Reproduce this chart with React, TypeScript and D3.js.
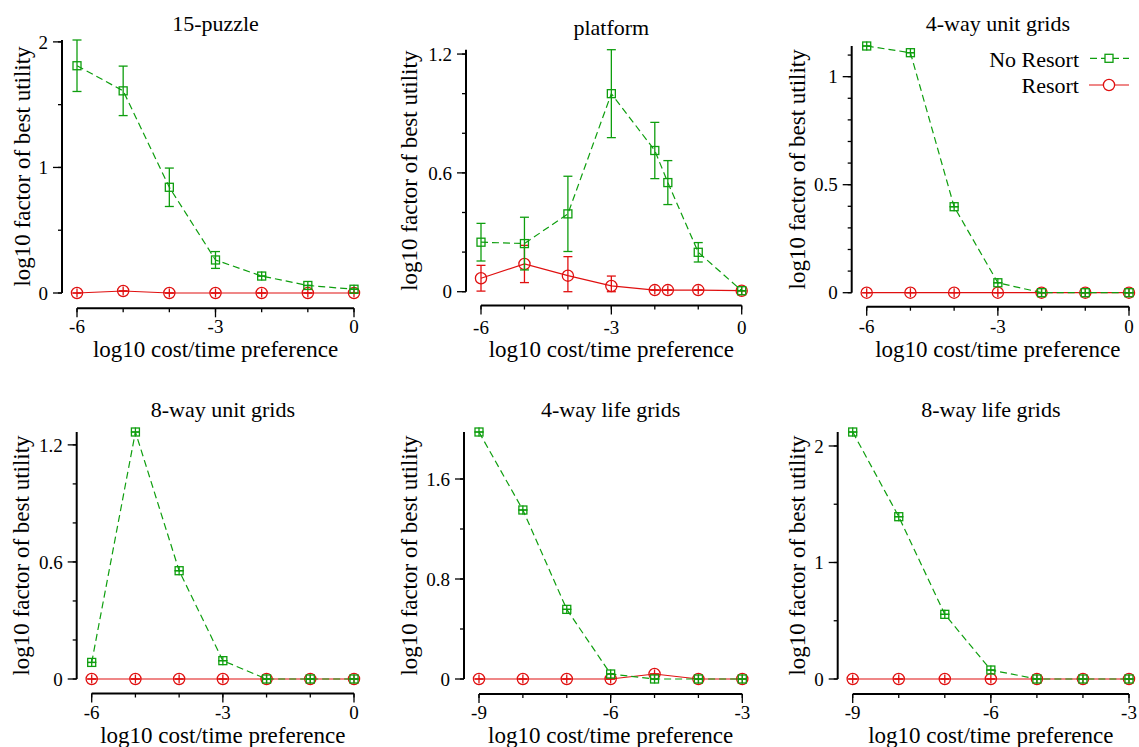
import React from "react";
import * as d3 from "d3";

const seriesNames = ["No Resort", "Resort"];
const xLabel = "log10 cost/time preference";
const yLabel = "log10 factor of best utility";
const titles = ["15-puzzle", "platform", "4-way unit grids", "8-way unit grids", "4-way life grids", "8-way life grids"];

// 15-puzzle
const puzzleX = [-6, -5, -4, -3, -2, -1, 0];
const puzzleNo = [1.81, 1.61, 0.842, 0.263, 0.135, 0.06, 0.03];
const puzzleNoErr = [0.205, 0.197, 0.153, 0.067, 0, 0, 0];
const puzzleRes = [0, 0.016, 0, 0, 0, 0, 0];
const puzzleResErr = [0, 0, 0, 0, 0, 0, 0];

// platform
const platformX = [-6, -5, -4, -3, -2, -1.7, -1, 0];
const platformNo = [0.25, 0.243, 0.393, 1.0, 0.713, 0.551, 0.199, 0.005];
const platformNoErr = [0.095, 0.133, 0.19, 0.222, 0.142, 0.111, 0.049, 0];
const platformRes = [0.068, 0.14, 0.081, 0.029, 0.008, 0.008, 0.008, 0.005];
const platformResErr = [0.065, 0.094, 0.096, 0.05, 0, 0, 0, 0];

// 4-way unit grids
const unit4X = [-6, -5, -4, -3, -2, -1, 0];
const unit4No = [1.142, 1.111, 0.398, 0.046, 0, 0, 0];
const unit4Res = [0, 0, 0, 0, 0, 0, 0];

// 8-way unit grids
const unit8X = [-6, -5, -4, -3, -2, -1, 0];
const unit8No = [0.085, 1.266, 0.555, 0.094, 0, 0, 0];
const unit8Res = [0, 0, 0, 0, 0, 0, 0];

// 4-way life grids
const life4X = [-9, -8, -7, -6, -5, -4, -3];
const life4No = [1.976, 1.352, 0.557, 0.04, 0, 0, 0];
const life4Res = [0, 0, 0, 0, 0.04, 0, 0];

// 8-way life grids
const life8X = [-9, -8, -7, -6, -5, -4, -3];
const life8No = [2.12, 1.393, 0.555, 0.077, 0, 0, 0];
const life8Res = [0, 0, 0, 0, 0, 0, 0];

const zeros = [0, 0, 0, 0, 0, 0, 0];

const yTicks = [[0, 1, 2], [0, 0.6, 1.2], [0, 0.5, 1], [0, 0.6, 1.2], [0, 0.8, 1.6], [0, 1, 2]];
const yMinorSteps = [0.5, 0.2, 0.1, 0.2, 0.4, 0.5];
const xTicksA = [-6, -3, 0];
const xTicksB = [-9, -6, -3];

const GREEN = "#0e9e0e";
const RED = "#e01010";
const FONT = "'Liberation Serif', 'Times New Roman', serif";

// pixel layout of each panel
const layout = [
  { x0: 77, x1: 354, y0: 293, top: 40, axisY: 308.3, titleY: 31, tickY: 333, labelY: 357, yLabelX: 30 },
  { x0: 481, x1: 741.7, y0: 291.7, top: 49.7, axisY: 305.5, titleY: 35, tickY: 334, labelY: 357, yLabelX: 416.6 },
  { x0: 866.7, x1: 1129, y0: 292.7, top: 46, axisY: 306.7, titleY: 31, tickY: 333, labelY: 357, yLabelX: 805 },
  { x0: 91.7, x1: 354, y0: 679, top: 432, axisY: 693.5, titleY: 417, tickY: 719, labelY: 742.5, yLabelX: 29 },
  { x0: 479, x1: 742.3, y0: 679, top: 432, axisY: 694, titleY: 417, tickY: 719, labelY: 742.5, yLabelX: 416.6 },
  { x0: 852.7, x1: 1129, y0: 679, top: 432, axisY: 694, titleY: 417, tickY: 719, labelY: 742.5, yLabelX: 805 },
];

const panels = [
  { xs: puzzleX, no: puzzleNo, noErr: puzzleNoErr, res: puzzleRes, resErr: puzzleResErr, xTicks: xTicksA },
  { xs: platformX, no: platformNo, noErr: platformNoErr, res: platformRes, resErr: platformResErr, xTicks: xTicksA },
  { xs: unit4X, no: unit4No, noErr: zeros, res: unit4Res, resErr: zeros, xTicks: xTicksA },
  { xs: unit8X, no: unit8No, noErr: zeros, res: unit8Res, resErr: zeros, xTicks: xTicksA },
  { xs: life4X, no: life4No, noErr: zeros, res: life4Res, resErr: zeros, xTicks: xTicksB },
  { xs: life8X, no: life8No, noErr: zeros, res: life8Res, resErr: zeros, xTicks: xTicksB },
];

function ErrorBars({ xs, vs, es, x, y, color }) {
  return (
    <g stroke={color} strokeWidth={1.3}>
      {xs.map((xv, i) => {
        const cx = x(xv);
        const lo = y(Math.max(0, vs[i] - es[i]));
        const hi = y(vs[i] + es[i]);
        const cy = y(vs[i]);
        return (
          <g key={i}>
            <line x1={cx} x2={cx} y1={Math.min(hi, cy - 4.5)} y2={Math.max(lo, cy + 4.5)} />
            <line x1={cx - 4.5} x2={cx + 4.5} y1={hi} y2={hi} />
            <line x1={cx - 4.5} x2={cx + 4.5} y1={lo} y2={lo} />
          </g>
        );
      })}
    </g>
  );
}

function Panel({ idx }) {
  const p = panels[idx];
  const L = layout[idx];
  const ymax = d3.max([...p.no.map((v, i) => v + p.noErr[i]), ...p.res.map((v, i) => v + p.resErr[i])]);
  const x = d3.scaleLinear().domain(d3.extent(p.xs)).range([L.x0, L.x1]);
  const y = d3.scaleLinear().domain([0, ymax]).range([L.y0, L.top]);
  const axisX = L.x0 - 15;
  const line = d3.line().x((d) => x(d[0])).y((d) => y(d[1]));
  const noPts = p.xs.map((v, i) => [v, p.no[i]]);
  const resPts = p.xs.map((v, i) => [v, p.res[i]]);
  const minorY = d3.range(0, ymax + 1e-9, yMinorSteps[idx]);
  const [xa, xb] = x.domain();
  const minorX = d3.range(xa, xb + 1e-9, 1);
  const cxMid = (L.x0 + L.x1) / 2;

  return (
    <g fontFamily={FONT} fill="#000">
      <text x={cxMid} y={L.titleY} textAnchor="middle" fontSize={22}>{titles[idx]}</text>
      {/* y axis */}
      <line x1={axisX} x2={axisX} y1={y(ymax)} y2={y(0)} stroke="#000" strokeWidth={2} />
      {minorY.map((t, i) => (
        <line key={i} x1={axisX - 4} x2={axisX} y1={y(t)} y2={y(t)} stroke="#000" strokeWidth={1.3} />
      ))}
      {yTicks[idx].map((t) => (
        <g key={t}>
          <line x1={axisX - 9} x2={axisX} y1={y(t)} y2={y(t)} stroke="#000" strokeWidth={1.3} />
          <text x={axisX - 14} y={y(t)} dy="0.35em" textAnchor="end" fontSize={19}>{String(t)}</text>
        </g>
      ))}
      <text transform={`translate(${L.yLabelX},${(y(ymax) + y(0)) / 2}) rotate(-90)`} textAnchor="middle" fontSize={23}>
        {yLabel}
      </text>
      {/* x axis */}
      <line x1={L.x0} x2={L.x1} y1={L.axisY} y2={L.axisY} stroke="#000" strokeWidth={2} />
      {minorX.map((t, i) => (
        <line key={i} x1={x(t)} x2={x(t)} y1={L.axisY} y2={L.axisY + 4} stroke="#000" strokeWidth={1.3} />
      ))}
      {p.xTicks.map((t) => (
        <g key={t}>
          <line x1={x(t)} x2={x(t)} y1={L.axisY} y2={L.axisY + 9} stroke="#000" strokeWidth={1.3} />
          <text x={x(t)} y={L.tickY} textAnchor="middle" fontSize={19}>{String(t)}</text>
        </g>
      ))}
      <text x={cxMid} y={L.labelY} textAnchor="middle" fontSize={23}>{xLabel}</text>

      {/* Resort */}
      <path d={line(resPts)} fill="none" stroke={RED} strokeWidth={1.2} />
      <ErrorBars xs={p.xs} vs={p.res} es={p.resErr} x={x} y={y} color={RED} />
      {resPts.map((d, i) => (
        <circle key={i} cx={x(d[0])} cy={y(d[1])} r={5.6} fill="none" stroke={RED} strokeWidth={1.3} />
      ))}
      {/* No Resort */}
      <path d={line(noPts)} fill="none" stroke={GREEN} strokeWidth={1.2} strokeDasharray="7,4" />
      <ErrorBars xs={p.xs} vs={p.no} es={p.noErr} x={x} y={y} color={GREEN} />
      {noPts.map((d, i) => (
        <rect key={i} x={x(d[0]) - 4} y={y(d[1]) - 4} width={8} height={8} fill="none" stroke={GREEN} strokeWidth={1.3} />
      ))}

      {idx === 2 && (
        <g fontSize={22}>
          <text x={1079} y={66.5} textAnchor="end">{seriesNames[0]}</text>
          <line x1={1089} x2={1129} y1={58.3} y2={58.3} stroke={GREEN} strokeWidth={1.2} strokeDasharray="7,4" strokeDashoffset={-1} />
          <rect x={1105} y={54.3} width={8} height={8} fill="#fff" stroke={GREEN} strokeWidth={1.3} />
          <text x={1079} y={93} textAnchor="end">{seriesNames[1]}</text>
          <line x1={1089} x2={1129} y1={85} y2={85} stroke={RED} strokeWidth={1.2} />
          <circle cx={1109} cy={85} r={5.6} fill="#fff" stroke={RED} strokeWidth={1.3} />
        </g>
      )}
    </g>
  );
}

export default function App() {
  return (
    <div style={{ position: "absolute", left: 0, top: 0 }}>
      <svg width={1139} height={747} style={{ display: "block", background: "#fff" }}>
        {panels.map((_, i) => (
          <Panel key={i} idx={i} />
        ))}
      </svg>
    </div>
  );
}
